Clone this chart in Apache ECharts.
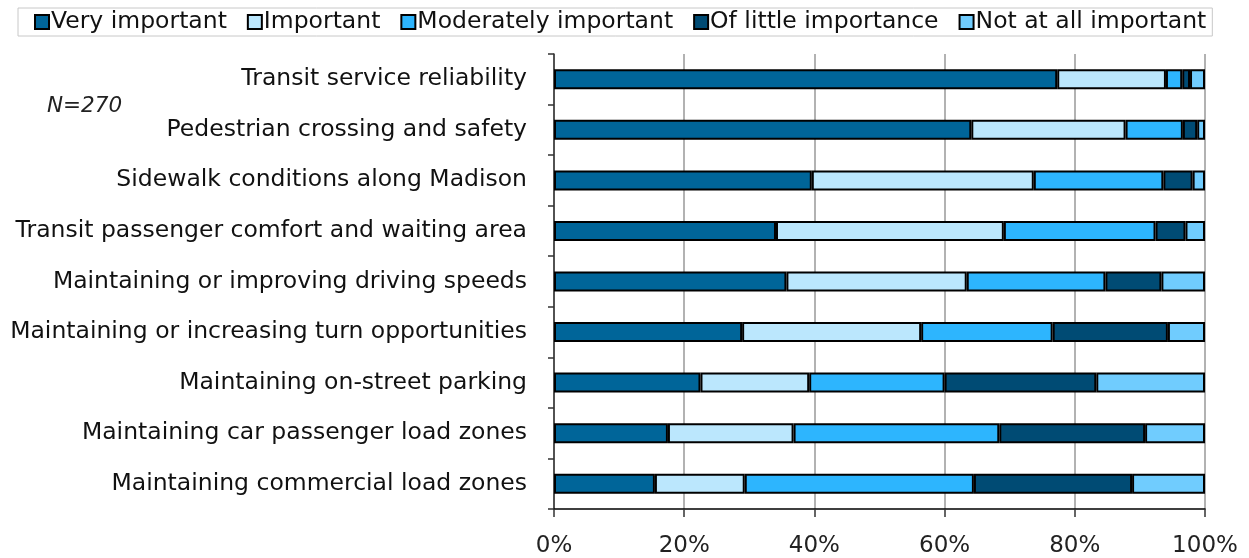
<!DOCTYPE html>
<html><head><meta charset="utf-8">
<script src="https://cdn.jsdelivr.net/npm/echarts@6/dist/echarts.min.js"></script>
<style>html,body{margin:0;padding:0;background:#fff}#c{width:1249px;height:558px}</style>
</head><body><div id="c"></div>
<script>
const categories = [
  "Transit service reliability",
  "Pedestrian crossing and safety",
  "Sidewalk conditions along Madison",
  "Transit passenger comfort and waiting area",
  "Maintaining or improving driving speeds",
  "Maintaining or increasing turn opportunities",
  "Maintaining on-street parking",
  "Maintaining car passenger load zones",
  "Maintaining commercial load zones"
];
const seriesNames = ["Very important","Important","Moderately important","Of little importance","Not at all important"];
const veryImportant      = [77.3, 64.1, 39.6, 34.1, 35.7, 28.9, 22.5, 17.5, 15.5];
const important          = [16.7, 23.7, 34.1, 35.0, 27.7, 27.5, 16.7, 19.3, 13.8];
const moderatelyImportant= [2.5,  8.8, 19.9, 23.3, 21.3, 20.2, 20.8, 31.6, 35.2];
const ofLittleImportance = [1.2,  2.2,  4.5,  4.6,  8.6, 17.7, 23.3, 22.4, 24.3];
const notAtAllImportant  = [2.3,  1.2,  1.9,  3.0,  6.7,  5.7, 16.7,  9.2, 11.2];
const xTicks = [0, 20, 40, 60, 80, 100];
const noteText = "N=270";

const values = [veryImportant, important, moderatelyImportant, ofLittleImportance, notAtAllImportant];
const colors = ["#006599", "#BBE7FD", "#2DB5FE", "#004B74", "#70CCFE"];

const chart = echarts.init(document.getElementById('c'));
const font = "'DejaVu Sans', sans-serif";
chart.setOption({
  animation: false,
  textStyle: {fontFamily: font},
  legend: {
    top: 8, left: 18,
    padding: [2, 6, 2, 16],
    borderColor: '#c8c8c8', borderWidth: 1,
    itemWidth: 14, itemHeight: 14, itemGap: 20,
    icon: 'rect',
    itemStyle: {borderColor: '#000', borderWidth: 2},
    textStyle: {fontSize: 23.5, color: '#111', fontFamily: font, padding: [0,0,0,-3]},
    data: seriesNames
  },
  graphic: [{
    type: 'text', left: 47, top: 95,
    style: {text: noteText, fontSize: 21.5, fontStyle: 'italic', fill: '#222', fontFamily: font}
  }],
  grid: {left: 554, right: 44, top: 54, bottom: 49, containLabel: false},
  xAxis: {
    type: 'value', min: 0, max: 100, interval: 20,
    axisLine: {show: true, lineStyle: {color: '#000', width: 1.5}},
    axisTick: {show: true, length: 8, lineStyle: {color: '#333', width: 1.5}},
    axisLabel: {fontSize: 23, color: '#222', margin: 26,
      formatter: v => xTicks.includes(v) ? v + '%' : ''},
    splitLine: {show: true, lineStyle: {color: '#999', width: 1.5}}
  },
  yAxis: {
    type: 'category', data: categories, inverse: true,
    axisLine: {show: true, lineStyle: {color: '#333', width: 1.5}},
    axisTick: {show: true, length: 6, lineStyle: {color: '#333', width: 1.5}},
    axisLabel: {fontSize: 23.5, color: '#111', margin: 27}
  },
  series: values.map((arr, i) => ({
    name: seriesNames[i], type: 'bar', stack: 'total',
    data: arr, barWidth: 20,
    itemStyle: {color: colors[i], borderColor: '#000', borderWidth: 2}
  }))
});
</script></body></html>
